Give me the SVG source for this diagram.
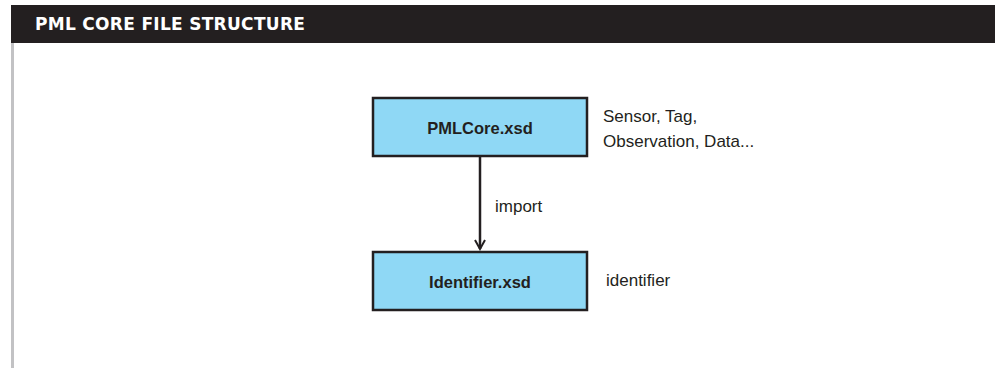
<svg xmlns="http://www.w3.org/2000/svg" width="995" height="369" viewBox="0 0 995 369">
<style>
.node rect{fill:#8fd8f5;stroke:#231f20;stroke-width:2.5}
.nt{font-family:"Liberation Sans",Arial,sans-serif;font-weight:bold;font-size:16.5px;fill:#231f20;text-anchor:middle}
.lbl{font-family:"Liberation Sans",Arial,sans-serif;font-size:17px;fill:#231f20}
.title{font-family:"DejaVu Sans",sans-serif;font-weight:bold;font-size:17px;letter-spacing:0.3px;fill:#ffffff}
</style>
<defs>
<marker id="arr" viewBox="0 0 12 12" refX="10" refY="6" markerWidth="12" markerHeight="12" markerUnits="userSpaceOnUse" orient="auto">
<path d="M1,1 L10,6 L1,11" fill="none" stroke="#231f20" stroke-width="2"/>
</marker>
</defs>
<rect x="0" y="0" width="995" height="369" fill="#ffffff"/>
<rect x="11" y="5" width="984" height="38" fill="#231f20"/>
<text class="title" x="35" y="30">PML CORE FILE STRUCTURE</text>
<rect x="11" y="43" width="3" height="325" fill="#c2c2c4"/>
<g id="connectors">
<line x1="480" y1="157" x2="480" y2="249" stroke="#231f20" stroke-width="2.5" marker-end="url(#arr)"/>
<text class="lbl" x="495" y="212">import</text>
</g>
<g id="pmlcore" class="node">
<rect x="373" y="98" width="214" height="58"/>
<text class="nt" x="480" y="134">PMLCore.xsd</text>
<text class="lbl" x="603" y="122">Sensor, Tag,</text>
<text class="lbl" x="603" y="147">Observation, Data...</text>
</g>
<g id="identifier" class="node">
<rect x="373" y="252" width="214" height="58"/>
<text class="nt" x="480" y="288">Identifier.xsd</text>
<text class="lbl" x="606" y="286">identifier</text>
</g>
</svg>
